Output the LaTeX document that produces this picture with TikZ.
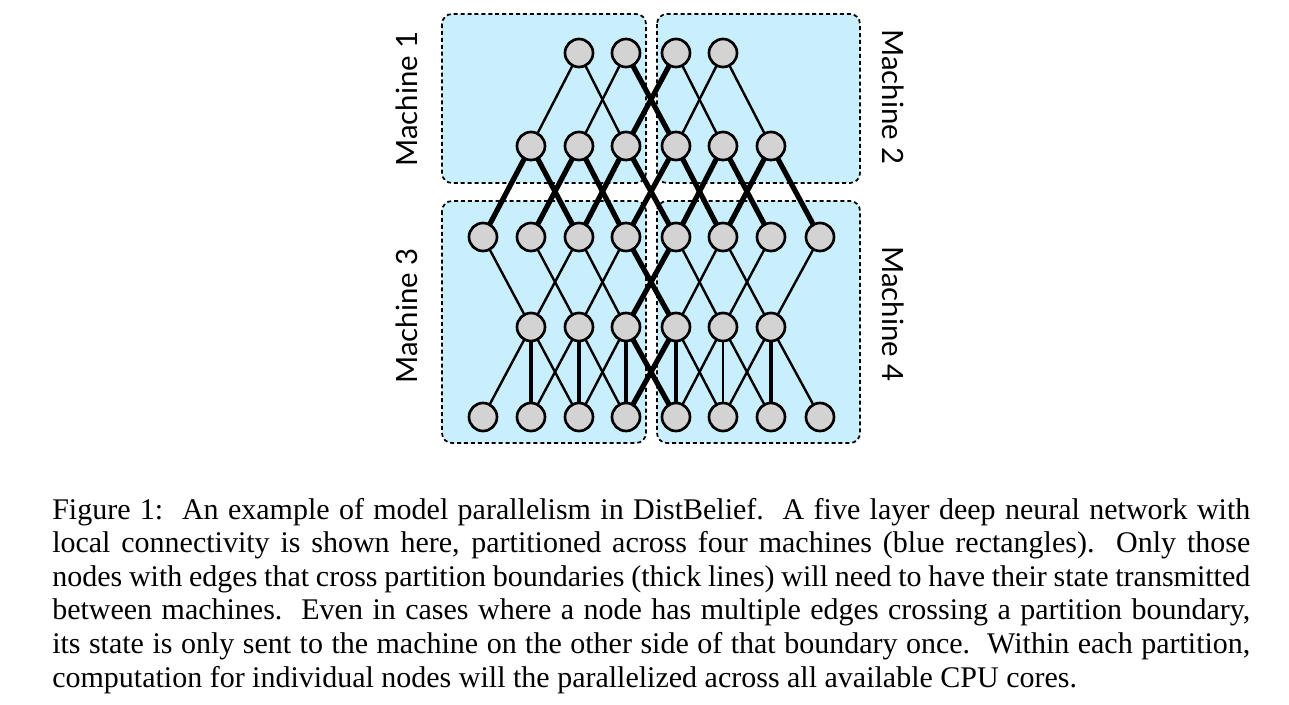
\documentclass[tikz,border=0pt]{standalone}
\usepackage{fontspec}
\setmainfont{Liberation Serif}
\newfontfamily\labelfont{Lato}
\usetikzlibrary{backgrounds}
\definecolor{boxblue}{RGB}{201,238,252}
\definecolor{nodegray}{RGB}{211,211,211}
\begin{document}
\begin{tikzpicture}[x=0.75pt,y=-0.75pt,
  machine/.style={draw=black, fill=boxblue, line width=1.3pt, dash pattern=on 3pt off 2.2pt, rounded corners=7.5pt},
  neuron/.style={circle, draw=black, fill=nodegray, line width=2pt, minimum size=21pt, inner sep=0pt},
  conn/.style={line width=1.8pt},
  xconn/.style={line width=3.9pt},
  vconn/.style={line width=3.5pt},
  mlabel/.style={font=\labelfont\fontsize{22}{26}\selectfont, inner sep=0pt}]
\useasboundingbox (0,0) rectangle (1289,704);
% neurons
\foreach \k/\x in {2/579,3/626,4/676,5/723} \node[neuron] (a\k) at (\x,53) {};
\foreach \k/\x in {1/531,2/579,3/626,4/676,5/723,6/771} \node[neuron] (b\k) at (\x,146) {};
\foreach \k/\x in {0/483,1/531,2/579,3/626,4/676,5/723,6/771,7/820} \node[neuron] (c\k) at (\x,237) {};
\foreach \k/\x in {1/531,2/579,3/626,4/676,5/723,6/771} \node[neuron] (d\k) at (\x,327) {};
\foreach \k/\x in {0/483,1/531,2/579,3/626,4/676,5/723,6/771,7/820} \node[neuron] (e\k) at (\x,417) {};
% labels
\node[mlabel, rotate=90] (m1) at (407,99) {Machine 1};
\node[mlabel, rotate=-90] (m2) at (893,97) {Machine 2};
\node[mlabel, rotate=90] (m3) at (407,316) {Machine 3};
\node[mlabel, rotate=-90] (m4) at (893,314) {Machine 4};
\begin{pgfonlayer}{background}
\draw[machine] (442,14) rectangle (646,183);
\draw[machine] (657,14) rectangle (860,183);
\draw[machine] (442,201) rectangle (646,443);
\draw[machine] (657,201) rectangle (860,443);
% layer 1 - 2
\foreach \p/\q in {a2/b1,a2/b3,a3/b2,a4/b5,a5/b4,a5/b6} \draw[conn] (\p.center) -- (\q.center);
\foreach \p/\q in {a3/b4,a4/b3} \draw[xconn] (\p.center) -- (\q.center);
% layer 2 - 3
\foreach \p/\q in {b1/c0,b1/c2,b2/c1,b2/c3,b3/c2,b3/c4,b4/c3,b4/c5,b5/c4,b5/c6,b6/c5,b6/c7} \draw[xconn] (\p.center) -- (\q.center);
% layer 3 - 4
\foreach \p/\q in {d1/c0,d1/c2,d2/c1,d2/c3,d3/c2,d4/c5,d5/c4,d5/c6,d6/c5,d6/c7} \draw[conn] (\p.center) -- (\q.center);
\foreach \p/\q in {d3/c4,d4/c3} \draw[xconn] (\p.center) -- (\q.center);
% layer 4 - 5
\foreach \p/\q in {d1/e0,d1/e2,d2/e1,d2/e3,d3/e2,d4/e5,d5/e4,d5/e6,d6/e5,d6/e7,d5/e5} \draw[conn] (\p.center) -- (\q.center);
\foreach \p/\q in {d3/e4,d4/e3} \draw[xconn] (\p.center) -- (\q.center);
\foreach \p/\q in {d1/e1,d2/e2,d3/e3,d4/e4,d6/e6} \draw[vconn] (\p.center) -- (\q.center);
\end{pgfonlayer}
% caption
\node[anchor=north west, text width=898.5pt, align=justify, inner sep=0pt,
  font=\fontsize{22.5}{25.15}\selectfont] (cap) at (52,498)
{Figure 1:\ \ An example of model parallelism in DistBelief.\ \ A five layer deep neural network with\linebreak
local connectivity is shown here, partitioned across four machines (blue rectangles).\ \ Only those\linebreak
nodes with edges that cross partition boundaries (thick lines) will need to have their state transmitted\linebreak
between machines.\ \ Even in cases where a node has multiple edges crossing a partition boundary,\linebreak
its state is only sent to the machine on the other side of that boundary once.\ \ Within each partition,\linebreak
computation for individual nodes will the parallelized across all available CPU cores.};
\end{tikzpicture}
\end{document}
